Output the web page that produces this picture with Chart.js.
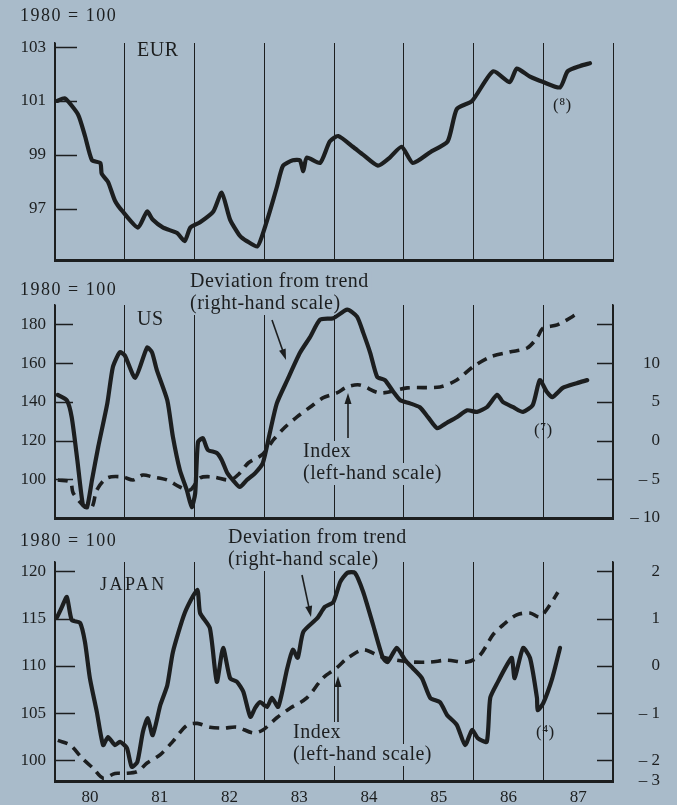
<!DOCTYPE html>
<html>
<head>
<meta charset="utf-8">
<script src="https://cdn.jsdelivr.net/npm/chart.js@4"></script>
<style>
  html, body { margin: 0; padding: 0; background: #a9bbca; }
  #wrap { position: relative; width: 677px; height: 805px; overflow: hidden; }
  canvas { position: absolute; left: 0; top: 0; }
</style>
</head>
<body>
<div id="wrap">
  <canvas id="eur" width="677" height="805"></canvas>
  <canvas id="us" width="677" height="805"></canvas>
  <canvas id="jp" width="677" height="805"></canvas>
</div>
<script>
// year labels, bar between two vertical lines
const yearLabels = ['80', '81', '82', '83', '84', '85', '86', '87'];

// EUR index, 1980 = 100
const eurYears = [1980.03, 1980.14, 1980.33, 1980.43, 1980.53, 1980.65, 1980.67, 1980.76, 1980.86, 1980.97,
  1981.19, 1981.32, 1981.40, 1981.55, 1981.75, 1981.86, 1981.94, 1982.08, 1982.27, 1982.39,
  1982.51, 1982.65, 1982.75, 1982.90, 1982.97, 1983.08, 1983.18, 1983.27, 1983.41, 1983.51,
  1983.56, 1983.61, 1983.80, 1983.94, 1984.06, 1984.27, 1984.42, 1984.63, 1984.80, 1984.97,
  1985.13, 1985.38, 1985.63, 1985.76, 1985.98, 1986.28, 1986.52, 1986.62, 1986.81, 1987.00,
  1987.24, 1987.35, 1987.53, 1987.67];
const eurIndex = [101.0, 101.1, 100.5, 99.7, 98.8, 98.7, 98.3, 98.0, 97.3, 96.9,
  96.3, 96.9, 96.6, 96.3, 96.1, 95.8, 96.3, 96.5, 96.9, 97.6,
  96.6, 96.0, 95.8, 95.6, 96.0, 96.9, 97.8, 98.6, 98.8, 98.8,
  98.4, 98.9, 98.7, 99.5, 99.7, 99.3, 99.0, 98.6, 98.9, 99.3,
  98.7, 99.1, 99.5, 100.7, 101.0, 102.1, 101.7, 102.2, 101.9, 101.7,
  101.5, 102.1, 102.3, 102.4];

// US deviation from trend (right-hand scale)
const usDevYears = [1980.04, 1980.17, 1980.24, 1980.32, 1980.40, 1980.46, 1980.53, 1980.62, 1980.75, 1980.83,
  1980.93, 1981.00, 1981.15, 1981.32, 1981.39, 1981.46, 1981.61, 1981.69, 1981.79, 1981.89,
  1981.96, 1982.01, 1982.05, 1982.12, 1982.19, 1982.32, 1982.39, 1982.47, 1982.55, 1982.65,
  1982.75, 1982.87, 1982.98, 1983.08, 1983.18, 1983.33, 1983.51, 1983.66, 1983.80, 1983.99,
  1984.19, 1984.33, 1984.42, 1984.52, 1984.62, 1984.73, 1984.85, 1984.95, 1985.09, 1985.23,
  1985.35, 1985.48, 1985.62, 1985.76, 1985.91, 1986.05, 1986.19, 1986.34, 1986.42, 1986.57,
  1986.71, 1986.85, 1986.95, 1987.05, 1987.13, 1987.28, 1987.48, 1987.63];
const usDeviation = [5.9, 5.2, 3.0, -2.5, -8.3, -8.6, -5.1, -0.8, 4.8, 9.5,
  11.4, 11.0, 8.1, 12.0, 11.4, 9.1, 5.2, 0.5, -3.8, -6.4,
  -8.6, -6.8, -0.2, 0.3, -1.2, -1.6, -2.5, -4.2, -5.1, -6.0,
  -5.1, -4.2, -2.9, 1.0, 4.8, 7.8, 11.3, 13.4, 15.6, 15.8,
  16.9, 16.0, 13.9, 11.3, 8.2, 7.8, 6.3, 5.2, 4.8, 4.3,
  3.0, 1.6, 2.3, 3.0, 3.9, 3.7, 4.3, 5.9, 5.0, 4.3,
  3.7, 4.6, 7.8, 6.3, 5.6, 6.8, 7.4, 7.8];

// US index (left-hand scale)
const usIdxYears = [1980.04, 1980.22, 1980.26, 1980.43, 1980.53, 1980.60, 1980.75, 1980.97, 1981.12, 1981.26,
  1981.40, 1981.61, 1981.79, 1981.94, 1982.08, 1982.27, 1982.51, 1982.65, 1982.77, 1982.98,
  1983.13, 1983.30, 1983.47, 1983.66, 1983.84, 1984.04, 1984.19, 1984.37, 1984.66, 1985.05,
  1985.52, 1985.76, 1985.99, 1986.24, 1986.52, 1986.77, 1986.91, 1987.00, 1987.20, 1987.53];
const usIndex = [99.6, 98.6, 92.9, 85.7, 85.7, 94.5, 100.7, 101.2, 99.6, 102.2,
  101.2, 99.6, 96.0, 94.5, 100.7, 101.2, 99.6, 103.2, 108.4, 113.0,
  120.3, 127.0, 132.2, 137.3, 142.0, 144.6, 147.7, 148.7, 144.6, 147.2,
  147.7, 151.3, 158.0, 163.2, 165.7, 167.8, 173.0, 178.1, 179.7, 186.4];

// Japan deviation from trend (right-hand scale)
const jpDevYears = [1980.03, 1980.10, 1980.17, 1980.24, 1980.36, 1980.43, 1980.50, 1980.60, 1980.69, 1980.76,
  1980.86, 1980.93, 1981.03, 1981.10, 1981.18, 1981.26, 1981.33, 1981.40, 1981.51, 1981.61,
  1981.69, 1981.86, 1982.04, 1982.08, 1982.22, 1982.32, 1982.41, 1982.51, 1982.61, 1982.70,
  1982.80, 1982.87, 1982.94, 1983.04, 1983.11, 1983.20, 1983.33, 1983.41, 1983.48, 1983.56,
  1983.76, 1983.87, 1983.99, 1984.09, 1984.19, 1984.30, 1984.42, 1984.56, 1984.70, 1984.77,
  1984.90, 1985.02, 1985.13, 1985.26, 1985.38, 1985.52, 1985.62, 1985.76, 1985.88, 1985.98,
  1986.06, 1986.19, 1986.24, 1986.35, 1986.48, 1986.55, 1986.59, 1986.71, 1986.81, 1986.91,
  1986.92, 1987.00, 1987.13, 1987.24];
const jpDeviation = [1.03, 1.25, 1.46, 0.97, 0.91, 0.50, -0.26, -0.98, -1.68, -1.51,
  -1.68, -1.61, -1.74, -2.14, -2.04, -1.40, -1.11, -1.47, -0.83, -0.41,
  0.29, 1.12, 1.61, 1.12, 0.80, -0.34, 0.38, -0.26, -0.34, -0.55,
  -1.08, -0.89, -0.77, -0.87, -0.68, -0.87, -0.05, 0.34, 0.17, 0.72,
  1.01, 1.25, 1.35, 1.78, 1.97, 1.97, 1.56, 0.87, 0.17, 0.08,
  0.38, 0.12, -0.05, -0.26, -0.68, -0.77, -1.04, -1.25, -1.68, -1.36,
  -1.53, -1.61, -0.68, -0.34, 0.02, 0.17, -0.26, 0.38, 0.17, -0.68,
  -0.94, -0.79, -0.26, 0.38];

// Japan index (left-hand scale)
const jpIdxYears = [1980.04, 1980.22, 1980.39, 1980.54, 1980.69, 1980.86, 1981.00, 1981.18, 1981.32, 1981.51,
  1981.69, 1981.89, 1982.04, 1982.22, 1982.41, 1982.61, 1982.84, 1982.98, 1983.18, 1983.37,
  1983.61, 1983.84, 1984.04, 1984.19, 1984.42, 1984.66, 1984.90, 1985.13, 1985.38, 1985.62,
  1985.91, 1986.09, 1986.28, 1986.42, 1986.62, 1986.81, 1986.95, 1987.10, 1987.21];
const jpIndex = [102.1, 101.6, 100.2, 99.2, 98.1, 98.6, 98.6, 98.8, 99.7, 100.6,
  102.0, 103.7, 103.9, 103.5, 103.4, 103.5, 102.9, 103.2, 104.5, 105.5,
  106.6, 108.7, 109.8, 110.8, 111.7, 111.0, 110.6, 110.4, 110.4, 110.6,
  110.4, 111.1, 113.3, 114.3, 115.4, 115.6, 115.2, 116.5, 117.8];

const INK = '#1c1e1f';
const BG = '#a9bbca';
const SERIF = '"Liberation Serif", "DejaVu Serif", serif';

function pts(xs, ys) {
    return xs.map((x, i) => ({ x, y: ys[i] }));
}

function solid(data, axis) {
    return {
        data, yAxisID: axis, borderColor: INK, borderWidth: 4.2, pointRadius: 0,
        tension: 0.2, borderJoinStyle: 'round', borderCapStyle: 'round',
    };
}

function dashed(data, axis) {
    return {
        data, yAxisID: axis, borderColor: INK, borderWidth: 3.6, pointRadius: 0,
        tension: 0.3, borderDash: [10, 7], borderCapStyle: 'butt',
    };
}

function minusLabel(v) {
    if (Math.abs(v) < 1e-9) return '0';
    return v < 0 ? '\u2013 ' + Math.abs(v) : String(v);
}

// texts, arrows and inward tick marks drawn in page coordinates
function decorations(cfg) {
    return {
        id: 'decorations',
        beforeDatasetsDraw(chart) {
            const ctx = chart.ctx;
            ctx.save();

            // inward ticks on the y axes
            ctx.strokeStyle = INK;
            ctx.lineWidth = 1.5;
            const yl = chart.scales.y;
            yl.ticks.forEach((t) => {
                const py = Math.round(yl.getPixelForValue(t.value)) + 0.5;
                ctx.beginPath();
                ctx.moveTo(yl.right, py);
                ctx.lineTo(yl.right + cfg.leftTick, py);
                ctx.stroke();
            });
            const yr = chart.scales.y2;
            if (yr) {
                yr.ticks.forEach((t) => {
                    const py = Math.round(yr.getPixelForValue(t.value)) + 0.5;
                    ctx.beginPath();
                    ctx.moveTo(yr.left, py);
                    ctx.lineTo(yr.left - 16, py);
                    ctx.stroke();
                });
            }

            ctx.textBaseline = 'middle';
            ctx.textAlign = 'left';
            (cfg.texts || []).forEach((t) => {
                ctx.font = `${t.size || 20}px ${SERIF}`;
                ctx.letterSpacing = t.spacing || '0.5px';
                const w = ctx.measureText(t.text).width;
                if (t.bg) {
                    ctx.fillStyle = BG;
                    ctx.fillRect(t.x - 3, t.y - 11, w + 6, 22);
                }
                ctx.fillStyle = INK;
                ctx.fillText(t.text, t.x, t.y);
            });
            ctx.letterSpacing = '0px';

            (cfg.arrows || []).forEach(([x1, y1, x2, y2]) => {
                const a = Math.atan2(y2 - y1, x2 - x1);
                ctx.strokeStyle = INK;
                ctx.lineWidth = 1.6;
                ctx.beginPath();
                ctx.moveTo(x1, y1);
                ctx.lineTo(x2 - 6 * Math.cos(a), y2 - 6 * Math.sin(a));
                ctx.stroke();
                ctx.fillStyle = INK;
                ctx.beginPath();
                ctx.moveTo(x2, y2);
                ctx.lineTo(x2 - 11 * Math.cos(a) + 3.5 * Math.sin(a), y2 - 11 * Math.sin(a) - 3.5 * Math.cos(a));
                ctx.lineTo(x2 - 11 * Math.cos(a) - 3.5 * Math.sin(a), y2 - 11 * Math.sin(a) + 3.5 * Math.cos(a));
                ctx.closePath();
                ctx.fill();
            });
            ctx.restore();
        },
    };
}

function makePanel(id, cfg) {
    const tickFont = { family: SERIF, size: 17 };
    const scales = {
        x: {
            type: 'linear', min: 1980, max: 1988,
            afterBuildTicks: (s) => { s.ticks = yearLabels.map((l, i) => ({ value: 1980.5 + i })); },
            afterFit: (s) => { s.height = cfg.xHeight; },
            grid: { offset: true, color: INK, lineWidth: 1, drawTicks: false },
            border: { color: INK, width: 3 },
            ticks: {
                display: !!cfg.showYears, padding: 6, font: tickFont, color: INK,
                autoSkip: false, maxRotation: 0, callback: (v, i) => yearLabels[i],
            },
        },
        y: {
            type: 'linear', position: 'left', min: cfg.left.min, max: cfg.left.max,
            afterBuildTicks: (s) => { s.ticks = cfg.left.ticks.map((v) => ({ value: v })); },
            afterFit: (s) => { s.width = 55; },
            grid: { display: false, drawTicks: false },
            border: { color: INK, width: 1.5 },
            ticks: { padding: 9, font: tickFont, color: INK, autoSkip: false },
        },
    };
    if (cfg.right) {
        scales.y2 = {
            type: 'linear', position: 'right', min: cfg.right.min, max: cfg.right.max,
            afterBuildTicks: (s) => { s.ticks = cfg.right.ticks.map((v) => ({ value: v })); },
            afterFit: (s) => { s.width = 47; },
            grid: { display: false, drawTicks: false },
            border: { color: INK, width: 1.5 },
            ticks: {
                crossAlign: 'far', font: tickFont, color: INK, autoSkip: false,
                callback: cfg.right.label,
            },
        };
    }

    return new Chart(document.getElementById(id), {
        type: 'line',
        data: { datasets: cfg.datasets },
        options: {
            responsive: false,
            animation: false,
            events: [],
            layout: { padding: { top: cfg.top, bottom: cfg.bottom, left: 0, right: cfg.padRight } },
            plugins: { legend: { display: false }, tooltip: { enabled: false } },
            scales,
        },
        plugins: [decorations(cfg)],
    });
}

// EUR panel
makePanel('eur', {
    top: 43, bottom: 805 - 260 - 2, xHeight: 2, padRight: 64, leftTick: 22,
    left: { min: 95.1, max: 103.15, ticks: [97, 99, 101, 103] },
    datasets: [solid(pts(eurYears, eurIndex), 'y')],
    texts: [
        { text: '1980 = 100', x: 20, y: 16, size: 18, spacing: '1.5px' },
        { text: 'EUR', x: 137, y: 51 },
        { text: '(\u2078)', x: 553, y: 106, size: 17 },
    ],
});

// US panel
makePanel('us', {
    top: 305, bottom: 805 - 518 - 2, xHeight: 2, padRight: 17, leftTick: 18,
    left: { min: 80, max: 190, ticks: [100, 120, 140, 160, 180] },
    right: {
        min: -10, max: 17.5, ticks: [-10, -5, 0, 5, 10, 15],
        label: (v) => (v === 15 ? '' : minusLabel(v)),
    },
    datasets: [
        dashed(pts(usIdxYears, usIndex), 'y'),
        solid(pts(usDevYears, usDeviation), 'y2'),
    ],
    texts: [
        { text: '1980 = 100', x: 20, y: 290, size: 18, spacing: '1.5px' },
        { text: 'US', x: 137, y: 320 },
        { text: 'Deviation from trend', x: 190, y: 282, bg: true },
        { text: '(right-hand scale)', x: 190, y: 304, bg: true },
        { text: 'Index', x: 303, y: 452, bg: true },
        { text: '(left-hand scale)', x: 303, y: 474, bg: true },
        { text: '(\u2077)', x: 534, y: 431, size: 17 },
    ],
    arrows: [[272, 320, 286, 360], [348, 438, 348, 393]],
});

// Japan panel
const jpMin = 97.8;
const jpRightMin = (jpMin - 110) / 5;
makePanel('jp', {
    top: 562, bottom: 0, xHeight: 24, padRight: 17, leftTick: 20, showYears: true,
    left: { min: jpMin, max: 121, ticks: [100, 105, 110, 115, 120] },
    right: {
        min: jpRightMin, max: (121 - 110) / 5, ticks: [jpRightMin, -2, -1, 0, 1, 2],
        label: (v) => (Math.abs(v - jpRightMin) < 1e-6 ? '\u2013 3' : minusLabel(v)),
    },
    datasets: [
        dashed(pts(jpIdxYears, jpIndex), 'y'),
        solid(pts(jpDevYears, jpDeviation), 'y2'),
    ],
    texts: [
        { text: '1980 = 100', x: 20, y: 541, size: 18, spacing: '1.5px' },
        { text: 'JAPAN', x: 100, y: 585, size: 18, spacing: '2.5px' },
        { text: 'Deviation from trend', x: 228, y: 538, bg: true },
        { text: '(right-hand scale)', x: 228, y: 560, bg: true },
        { text: 'Index', x: 293, y: 733, bg: true },
        { text: '(left-hand scale)', x: 293, y: 755, bg: true },
        { text: '(\u2074)', x: 536, y: 733, size: 17 },
    ],
    arrows: [[302, 575, 311, 617], [338, 722, 338, 676]],
});
</script>
</body>
</html>
